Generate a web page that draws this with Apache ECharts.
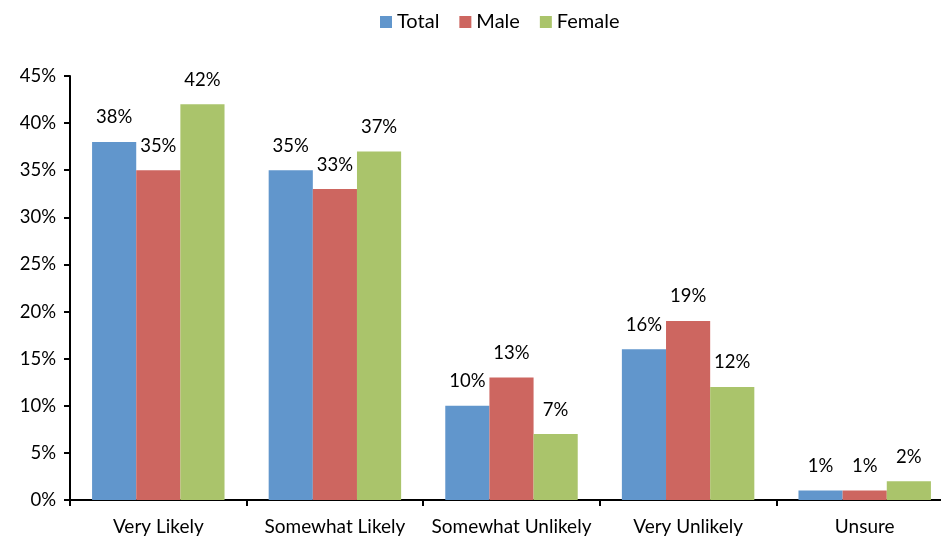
<!DOCTYPE html>
<html>
<head>
<meta charset="utf-8">
<script src="https://cdn.jsdelivr.net/npm/echarts@6/dist/echarts.min.js"></script>
<style>
  html, body { margin: 0; padding: 0; background: #fff; }
  #chart { width: 941px; height: 539px; }
</style>
</head>
<body>
<div id="chart"></div>
<script>
const categories = ['Very Likely', 'Somewhat Likely', 'Somewhat Unlikely', 'Very Unlikely', 'Unsure'];
const totalValues = [38, 35, 10, 16, 1];
const maleValues = [35, 33, 13, 19, 1];
const femaleValues = [42, 37, 7, 12, 2];

const chart = echarts.init(document.getElementById('chart'));
const font = 'Lato, "Noto Sans", sans-serif';

const makeSeries = (name, data, color) => ({
  name,
  type: 'bar',
  data,
  barGap: 0,
  barCategoryGap: '25%',
  itemStyle: { color },
  label: {
    show: true,
    position: 'top',
    distance: 15,
    formatter: '{c}%',
    color: '#000',
    fontSize: 18.5,
    fontFamily: font,
  },
});

const option = {
  animation: false,
  textStyle: { fontFamily: font },
  legend: {
    top: 7,
    left: 375,
    itemWidth: 12,
    itemHeight: 12,
    itemGap: 20,
    icon: 'rect',
    textStyle: { color: '#000', fontSize: 20, fontFamily: font },
    data: ['Total', 'Male', 'Female'],
  },
  grid: { left: 70, top: 76, bottom: 39, width: 883, outerBoundsMode: 'none', containLabel: false },
  xAxis: {
    type: 'category',
    data: categories,
    axisLine: { lineStyle: { color: '#000', width: 2 } },
    axisTick: { show: true, length: 6, lineStyle: { color: '#000', width: 2 } },
    axisLabel: { color: '#000', fontSize: 19, fontFamily: font, margin: 17, interval: 0 },
  },
  yAxis: {
    type: 'value',
    min: 0,
    max: 45,
    interval: 5,
    axisLine: { show: true, lineStyle: { color: '#000', width: 2 } },
    axisTick: { show: true, length: 6, lineStyle: { color: '#000', width: 2 } },
    splitLine: { show: false },
    axisLabel: { color: '#000', fontSize: 18.5, fontFamily: font, margin: 14, formatter: '{value}%' },
  },
  series: [
    makeSeries('Total', totalValues, '#6196CC'),
    makeSeries('Male', maleValues, '#CD6660'),
    makeSeries('Female', femaleValues, '#AAC46B'),
  ],
};

chart.setOption(option);
</script>
</body>
</html>
